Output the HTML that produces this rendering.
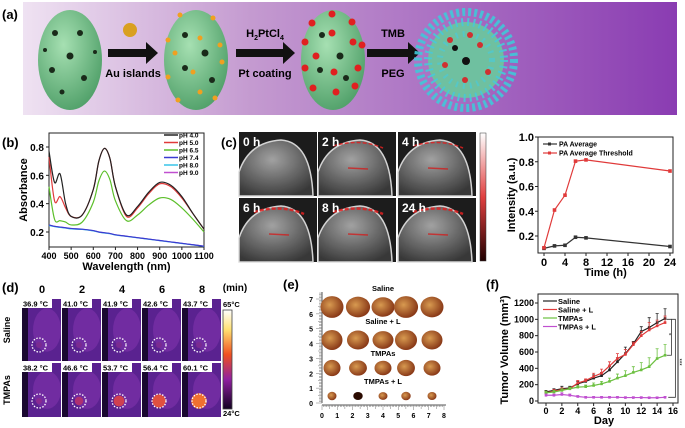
<!DOCTYPE html>
<html><head><meta charset="utf-8"><style>
html,body{margin:0;padding:0;background:#fff}
svg{display:block;font-family:"Liberation Sans",Arial,sans-serif}
.b{font-weight:bold}
</style></head><body>
<svg id="fig" width="685" height="428" viewBox="0 0 685 428" xmlns="http://www.w3.org/2000/svg">
<defs>
<linearGradient id="bg" x1="0" x2="1" y1="0" y2="0"><stop offset="0" stop-color="#efe2f2"/><stop offset="0.35" stop-color="#c49ad0"/><stop offset="1" stop-color="#8a3cb2"/></linearGradient>
<radialGradient id="sph" cx="0.4" cy="0.35" r="0.7"><stop offset="0" stop-color="#a6e0b2"/><stop offset="1" stop-color="#4f9f68"/></radialGradient>
<radialGradient id="us" cx="0.45" cy="0.35" r="0.7"><stop offset="0" stop-color="#a9a9a9"/><stop offset="1" stop-color="#3a3a3a"/></radialGradient>
<linearGradient id="thermal" x1="0" x2="0" y1="0" y2="1"><stop offset="0" stop-color="#ffffff"/><stop offset="0.2" stop-color="#ffe070"/><stop offset="0.45" stop-color="#f05020"/><stop offset="0.7" stop-color="#9020a0"/><stop offset="1" stop-color="#100020"/></linearGradient>
<linearGradient id="pacb" x1="0" x2="0" y1="0" y2="1"><stop offset="0" stop-color="#ffffff"/><stop offset="0.5" stop-color="#e04040"/><stop offset="1" stop-color="#200000"/></linearGradient>
<radialGradient id="tum" cx="0.4" cy="0.4" r="0.6"><stop offset="0" stop-color="#d89a50"/><stop offset="1" stop-color="#8a3a18"/></radialGradient>
</defs>

<g>
<text x="2" y="19" font-size="13" class="b">(a)</text>
<rect x="23" y="2" width="654" height="113" fill="url(#bg)"/>
<ellipse cx="70" cy="60" rx="32" ry="50" fill="url(#sph)"/>
<g fill="#1a2a1a"><circle cx="55" cy="33" r="3"/><circle cx="80" cy="33" r="3"/><circle cx="70" cy="56" r="3.5"/><circle cx="52" cy="70" r="3"/><circle cx="84" cy="78" r="3"/><circle cx="62" cy="92" r="2.5"/><circle cx="95" cy="52" r="2"/><circle cx="45" cy="50" r="2"/></g>
<circle cx="130" cy="30" r="7" fill="#d9a020"/>
<path d="M108 49h38v-7l12 11l-12 11v-7h-38z" fill="#111"/>
<text x="133" y="77" font-size="11" class="b" text-anchor="middle">Au islands</text>
<ellipse cx="196" cy="60" rx="32" ry="50" fill="url(#sph)"/>
<g fill="#1a2a1a"><circle cx="185" cy="35" r="3"/><circle cx="205" cy="53" r="3.5"/><circle cx="185" cy="68" r="3"/><circle cx="212" cy="80" r="3"/></g>
<g fill="#f0a020"><circle cx="180" cy="15" r="2.5"/><circle cx="213" cy="18" r="2.5"/><circle cx="168" cy="40" r="2.5"/><circle cx="200" cy="38" r="2.5"/><circle cx="220" cy="45" r="2.5"/><circle cx="175" cy="53" r="2.5"/><circle cx="222" cy="62" r="2.5"/><circle cx="193" cy="72" r="2.5"/><circle cx="168" cy="77" r="2.5"/><circle cx="200" cy="92" r="2.5"/><circle cx="178" cy="100" r="2.5"/><circle cx="215" cy="98" r="2.5"/></g>
<path d="M236 49h47v-7l12 11l-12 11v-7h-47z" fill="#111"/>
<text x="265" y="37" font-size="11" class="b" text-anchor="middle">H<tspan font-size="7" dy="3">2</tspan><tspan dy="-3">PtCl</tspan><tspan font-size="7" dy="3">4</tspan></text>
<text x="265" y="77" font-size="11" class="b" text-anchor="middle">Pt coating</text>
<ellipse cx="333" cy="60" rx="32" ry="50" fill="url(#sph)"/>
<g fill="#1a2a1a"><circle cx="322" cy="35" r="3"/><circle cx="340" cy="56" r="3.5"/><circle cx="320" cy="70" r="3"/><circle cx="346" cy="78" r="3"/></g>
<g fill="#e02020"><circle cx="332" cy="14" r="3.5"/><circle cx="352" cy="22" r="3.5"/><circle cx="312" cy="23" r="3.5"/><circle cx="332" cy="33" r="3.5"/><circle cx="353" cy="42" r="3.5"/><circle cx="305" cy="42" r="3.5"/><circle cx="316" cy="56" r="3.5"/><circle cx="362" cy="45" r="3.5"/><circle cx="305" cy="68" r="3.5"/><circle cx="334" cy="72" r="3.5"/><circle cx="358" cy="68" r="3.5"/><circle cx="313" cy="88" r="3.5"/><circle cx="336" cy="92" r="3.5"/><circle cx="355" cy="86" r="3.5"/></g>
<path d="M367 49h41v-7l12 11l-12 11v-7h-41z" fill="#111"/>
<text x="393" y="37" font-size="11" class="b" text-anchor="middle">TMB</text>
<text x="393" y="77" font-size="11" class="b" text-anchor="middle">PEG</text>
<g>
<circle cx="466" cy="60" r="38" fill="#6fc0a0"/>
<circle cx="466" cy="60" r="48" fill="none" stroke="#40c8d8" stroke-width="8" stroke-dasharray="3 3" opacity="0.9"/>
<circle cx="466" cy="60" r="38" fill="none" stroke="#48c8d8" stroke-width="8" stroke-dasharray="2 4" opacity="0.9"/>
<circle cx="466" cy="60" r="26" fill="none" stroke="#50c8d0" stroke-width="6" stroke-dasharray="2 5" opacity="0.8"/>
<g fill="#d03030"><circle cx="450" cy="40" r="3"/><circle cx="480" cy="45" r="3"/><circle cx="445" cy="65" r="3"/><circle cx="488" cy="72" r="3"/><circle cx="465" cy="80" r="3"/><circle cx="470" cy="35" r="3"/></g>
<circle cx="466" cy="61" r="4" fill="#111"/><circle cx="455" cy="48" r="3" fill="#111"/>
</g>
</g>

<g id="pb">
<text x="2" y="147" font-size="13" class="b">(b)</text>
</g>

<g id="pcimg">
<text x="221" y="147" font-size="13" class="b">(c)</text>
<rect x="480" y="133" width="6" height="128" fill="url(#pacb)" stroke="#333" stroke-width="0.5"/>
</g>
<g id="pc"></g>

<g id="pd">
<text x="2" y="292" font-size="13" class="b">(d)</text>
<text x="235" y="291" font-size="10" class="b" text-anchor="middle">(min)</text>
<text x="10" y="330" font-size="9" class="b" text-anchor="middle" transform="rotate(-90 10 330)">Saline</text>
<text x="10" y="390" font-size="9" class="b" text-anchor="middle" transform="rotate(-90 10 390)">TMPAs</text>
<rect x="223" y="310" width="9" height="99" fill="url(#thermal)" stroke="#444" stroke-width="0.8"/>
<text x="223" y="307" font-size="7.5" class="b">65°C</text>
<text x="223" y="416" font-size="7.5" class="b">24°C</text>
</g>

<g id="pe">
<text x="283" y="289" font-size="13" class="b">(e)</text>
</g>

<g id="pf">
<text x="486" y="289" font-size="13" class="b">(f)</text>
</g>
</svg>
<script>
const bWave = [400,425,450,475,500,550,600,625,650,675,700,750,800,850,900,950,1000,1050,1100];
const bPH40 = [0.77,0.55,0.61,0.40,0.31,0.32,0.50,0.70,0.79,0.72,0.52,0.32,0.38,0.48,0.55,0.53,0.45,0.33,0.22];
const bPH50 = [0.73,0.42,0.45,0.37,0.31,0.32,0.50,0.70,0.79,0.72,0.52,0.31,0.37,0.47,0.54,0.52,0.44,0.33,0.22];
const bPH65 = [0.52,0.29,0.28,0.27,0.25,0.27,0.41,0.56,0.63,0.57,0.42,0.28,0.32,0.39,0.44,0.43,0.37,0.29,0.20];
const bPH74 = [0.25,0.24,0.235,0.23,0.225,0.22,0.21,0.20,0.195,0.19,0.18,0.17,0.16,0.15,0.14,0.13,0.12,0.11,0.10];
const bPH80 = [0.245,0.238,0.232,0.228,0.222,0.218,0.208,0.199,0.193,0.188,0.179,0.169,0.159,0.149,0.139,0.129,0.119,0.109,0.099];
const bPH90 = [0.248,0.24,0.234,0.229,0.223,0.219,0.209,0.2,0.194,0.189,0.18,0.17,0.16,0.15,0.14,0.13,0.12,0.11,0.1];
const bLegend = ["pH 4.0","pH 5.0","pH 6.5","pH 7.4","pH 8.0","pH 9.0"];
const bXTicks = [400,500,600,700,800,900,1000,1100];
const bYTicks = [0.2,0.4,0.6,0.8];
const cTime = [0,2,4,6,8,24];
const cAvg = [0.10,0.12,0.125,0.19,0.185,0.115];
const cThr = [0.105,0.41,0.53,0.805,0.815,0.725];
const cXTicks = [0,4,8,12,16,20,24];
const cYTicks = [0.2,0.4,0.6,0.8,1.0];
const cImgLabels = ["0 h","2 h","4 h","6 h","8 h","24 h"];
const dTimes = ["0","2","4","6","8"];
const dSalineT = ["36.9 °C","41.0 °C","41.9 °C","42.6 °C","43.7 °C"];
const dTmpaT = ["38.2 °C","46.6 °C","53.7 °C","56.4 °C","60.1 °C"];
const fDay = [0,1,2,3,4,5,6,7,8,9,10,11,12,13,14,15];
const fSaline = [110,130,150,160,210,240,280,310,380,480,580,700,850,900,960,1010];
const fSalineErr = [20,20,30,20,30,20,40,40,40,50,80,30,60,120,110,120];
const fSalineL = [100,120,140,150,220,250,300,340,430,520,570,690,800,870,920,960];
const fSalineLErr = [20,20,20,20,30,20,40,50,50,60,60,30,50,90,70,80];
const fTmpa = [100,110,130,150,170,175,190,210,240,280,310,350,380,420,520,560];
const fTmpaErr = [20,20,20,20,20,20,30,30,40,50,60,70,90,110,120,130];
const fTmpaL = [70,70,80,70,55,45,45,45,45,45,42,42,42,40,40,45];
const fTmpaLErr = [15,15,20,15,10,10,10,10,10,10,8,8,8,8,8,10];
const fLegend = ["Saline","Saline + L","TMPAs","TMPAs + L"];
const fXTicks = [0,2,4,6,8,10,12,14,16];
const fYTicks = [0,200,400,600,800,1000,1200];

const NS = "http://www.w3.org/2000/svg";
function mk(parent, tag, attrs, text){
  const e = document.createElementNS(NS, tag);
  for (const k in attrs) e.setAttribute(k, attrs[k]);
  if (text !== undefined) e.textContent = text;
  parent.appendChild(e);
  return e;
}
function smooth(pts){
  let d = "M"+pts[0][0]+" "+pts[0][1];
  for (let i=0;i<pts.length-1;i++){
    const p0=pts[Math.max(0,i-1)],p1=pts[i],p2=pts[i+1],p3=pts[Math.min(pts.length-1,i+2)];
    const c1=[p1[0]+(p2[0]-p0[0])/6,p1[1]+(p2[1]-p0[1])/6];
    const c2=[p2[0]-(p3[0]-p1[0])/6,p2[1]-(p3[1]-p1[1])/6];
    d+=" C"+c1[0]+" "+c1[1]+" "+c2[0]+" "+c2[1]+" "+p2[0]+" "+p2[1];
  }
  return d;
}

(function(){
  const g = document.getElementById("pb");
  const L=49,R=204,T=133,B=247;
  const x = v => L + (v-400)/(1100-400)*(R-L);
  const y = v => 232 - (v-0.2)/0.6*(232-147);
  const frame = mk(g,"rect",{x:L,y:T,width:R-L,height:B-T,fill:"none",stroke:"#222","stroke-width":1});
  
  
  bXTicks.forEach(v=>{
    mk(g,"line",{x1:x(v),x2:x(v),y1:B,y2:B+3,stroke:"#222"});
    const t = mk(g,"text",{x:x(v),y:B+12,"font-size":9,"font-weight":"bold","text-anchor":"middle"},String(v));
    
    
  });
  bYTicks.forEach(v=>{
    mk(g,"line",{x1:L-3,x2:L,y1:y(v),y2:y(v),stroke:"#222"});
    const t = mk(g,"text",{x:L-5,y:y(v)+4,"font-size":10,"font-weight":"bold","text-anchor":"end"},v.toFixed(1));
    
    
  });
  const xt = mk(g,"text",{x:(L+R)/2,y:270,"font-size":11,"font-weight":"bold","text-anchor":"middle"},"Wavelength (nm)");
  
  
  const yt = mk(g,"text",{x:27,y:190,"font-size":11,"font-weight":"bold","text-anchor":"middle",transform:"rotate(-90 27 190)"},"Absorbance");
  
  
  const series=[bPH40,bPH50,bPH65,bPH74,bPH80,bPH90];
  const cols=["#222","#e03a3a","#5cbf2a","#3a3ad0","#38c4e8","#c050d0"];
  [5,4,3,2,1,0].forEach(i=>{
    const pts = bWave.map((w,j)=>[x(w),y(series[i][j])]);
    const p = mk(g,"path",{d:smooth(pts),fill:"none",stroke:cols[i],"stroke-width":1.2});
    
    
  });
  bLegend.forEach((s,i)=>{
    const ly = 135+i*7.5;
    mk(g,"line",{x1:164,x2:178,y1:ly,y2:ly,stroke:cols[i],"stroke-width":1.5});
    const t = mk(g,"text",{x:179,y:ly+2.5,"font-size":6.5,"font-weight":"bold"},s);
    
    
  });
})();

(function(){
  const g = document.getElementById("pcimg");
  const xs=[239,318,398], ys=[132,198], w=78, h=64;
  cImgLabels.forEach((lab,i)=>{
    const X=xs[i%3], Y=ys[Math.floor(i/3)];
    const r = mk(g,"rect",{x:X,y:Y,width:w,height:h,fill:"#1c1c1c"});
    
    
    mk(g,"path",{d:`M${X} ${Y+h} L${X} ${Y+40} Q${X+10} ${Y+10} ${X+42} ${Y+8} Q${X+72} ${Y+10} ${X+74} ${Y+h} Z`,fill:"url(#us)",stroke:"#ddd","stroke-width":1.5,opacity:0.95});
    if(i>0){
      mk(g,"path",{d:`M${X+15} ${Y+14} Q${X+42} ${Y+6} ${X+65} ${Y+16}`,fill:"none",stroke:"#e02020","stroke-width":i>=3?2.5:1.5,"stroke-dasharray":"4 2",opacity:0.85});
      mk(g,"line",{x1:X+30,x2:X+50,y1:Y+36,y2:Y+37,stroke:"#d02020","stroke-width":1.5,opacity:0.8});
    }
    const t = mk(g,"text",{x:X+4,y:Y+14,"font-size":12,"font-weight":"bold",fill:"#fff"},lab);
    
    
  });
})();

(function(){
  const g = document.getElementById("pc");
  const L=538,R=673,T=137,B=253;
  const x = v => 544 + v/24*(670-544);
  const y = v => 236 - (v-0.2)/0.8*(236-137);
  const f = mk(g,"rect",{x:L,y:T,width:R-L,height:B-T,fill:"none",stroke:"#222"});
  
  
  cXTicks.forEach(v=>{
    mk(g,"line",{x1:x(v),x2:x(v),y1:B,y2:B+3,stroke:"#222"});
    const t = mk(g,"text",{x:x(v),y:B+13,"font-size":11,"font-weight":"bold","text-anchor":"middle"},String(v));
    
    
  });
  cYTicks.forEach(v=>{
    mk(g,"line",{x1:L-3,x2:L,y1:y(v),y2:y(v),stroke:"#222"});
    const t = mk(g,"text",{x:L-4,y:y(v)+4,"font-size":11,"font-weight":"bold","text-anchor":"end"},v.toFixed(1));
    
    
  });
  const xt = mk(g,"text",{x:(L+R)/2,y:276,"font-size":11,"font-weight":"bold","text-anchor":"middle"},"Time (h)");
  
  
  const yt = mk(g,"text",{x:515,y:195,"font-size":11,"font-weight":"bold","text-anchor":"middle",transform:"rotate(-90 515 195)"},"Intensity (a.u.)");
  
  
  [[cAvg,"#333","pa-average-line"],[cThr,"#e03a3a","pa-threshold-line"]].forEach(([d,c,n])=>{
    const p = mk(g,"polyline",{points:cTime.map((t,i)=>x(t)+","+y(d[i])).join(" "),fill:"none",stroke:c,"stroke-width":1.2});
    
    
    cTime.forEach((t,i)=>{
      const m = mk(g,"rect",{x:x(t)-1.8,y:y(d[i])-1.8,width:3.6,height:3.6,fill:c});
      
      
    });
  });
  [["PA Average","#333",144],["PA Average Threshold","#e03a3a",153]].forEach(([s,c,ly])=>{
    mk(g,"line",{x1:543,x2:557,y1:ly,y2:ly,stroke:c,"stroke-width":1.2});
    mk(g,"rect",{x:548,y:ly-1.5,width:3,height:3,fill:c});
    const t = mk(g,"text",{x:559,y:ly+2.5,"font-size":7,"font-weight":"bold"},s);
    
    
  });
})();

(function(){
  const g = document.getElementById("pd");
  const xs=[21,61,101,141,181], ys=[299,363], w=40, h=62, hb=54;
  dTimes.forEach((tm,i)=>{
    const t = mk(g,"text",{x:xs[i]+21,y:293,"font-size":11,"font-weight":"bold","text-anchor":"middle"},tm);
    
    
  });
  [dSalineT,dTmpaT].forEach((temps,r)=>{
    temps.forEach((tt,i)=>{
      const X=xs[i]+1, Y=ys[r], H=r?hb:h;
      const im = mk(g,"rect",{x:X,y:Y,width:w-1,height:H,fill:"#5a2290"});
      
      
      mk(g,"rect",{x:X,y:Y,width:6,height:H,fill:"#1a0830"});
      mk(g,"ellipse",{cx:X+25,cy:Y+H*0.5,rx:14,ry:H*0.35,fill:"#7a30a8",opacity:0.7});
      const hot = r ? ["#8a2a90","#b03070","#d04050","#e05040","#f07030"][i] : "#7a2a90";
      mk(g,"circle",{cx:X+17,cy:Y+H-16,r:r?3+i*1.2:3,fill:hot});
      mk(g,"circle",{cx:X+17,cy:Y+H-16,r:7,fill:"none",stroke:"#fff","stroke-width":1.3,"stroke-dasharray":"1.5 1.5"});
      mk(g,"rect",{x:X,y:Y,width:30,height:9,fill:"#fff"});
      const t = mk(g,"text",{x:X+1,y:Y+7.5,"font-size":7.5,"font-weight":"bold"},tt);
      
      
    });
  });
})();

(function(){
  const g = document.getElementById("pe");
  const rulerX=322, y0=403, unit=(403-299)/7;
  mk(g,"line",{x1:rulerX,x2:rulerX,y1:292,y2:y0,stroke:"#555"});
  mk(g,"line",{x1:rulerX,x2:446,y1:y0+2,y2:y0+2,stroke:"#555"});
  for(let i=0;i<=75;i++){
    const yy=y0-i*unit/10;
    if(yy<292)break;
    mk(g,"line",{x1:rulerX-(i%10==0?6:i%5==0?4:3),x2:rulerX,y1:yy,y2:yy,stroke:"#777","stroke-width":0.5});
  }
  for(let i=0;i<=80;i++){
    const xx=rulerX+i*(122/80);
    mk(g,"line",{x1:xx,x2:xx,y1:y0+2,y2:y0+(i%10==0?7:i%5==0?6:4),stroke:"#777","stroke-width":0.5});
  }
  for(let i=0;i<=7;i++){
    const t = mk(g,"text",{x:313,y:y0-i*unit+3,"font-size":7,"font-weight":"bold","text-anchor":"end"},String(i));
    
    
  }
  for(let i=0;i<=8;i++){
    const t = mk(g,"text",{x:rulerX+i*(122/8),y:418,"font-size":7,"font-weight":"bold","text-anchor":"middle"},String(i));
    
    
  }
  const rows=[["Saline",291,307,11.5],["Saline + L",324,340,10.5],["TMPAs",356,368,8.5],["TMPAs + L",384,396,4.5]];
  const cx=[332,358,383,406,432];
  rows.forEach(([lab,ly,cy,rr])=>{
    const t = mk(g,"text",{x:383,y:ly,"font-size":7.5,"font-weight":"bold","text-anchor":"middle"},lab);
    
    
    cx.forEach((x,i)=>{
      const c = mk(g,"ellipse",{cx:x,cy:cy,rx:rr*(1+0.05*(i%2)),ry:rr*(0.95-0.05*(i%3)),fill:(rr<5&&i==1)?"#2a0a00":"url(#tum)"});
      
      
    });
  });
})();

(function(){
  const g = document.getElementById("pf");
  const L=538,R=678,T=294,B=403;
  const x = v => 546 + v/16*(673-546);
  const y = v => 401 - v/1200*(401-303);
  const f = mk(g,"rect",{x:L,y:T,width:R-L,height:B-T,fill:"none",stroke:"#222"});
  
  
  fXTicks.forEach(v=>{
    mk(g,"line",{x1:x(v),x2:x(v),y1:B,y2:B+3,stroke:"#222"});
    const t = mk(g,"text",{x:x(v),y:B+11,"font-size":9,"font-weight":"bold","text-anchor":"middle"},String(v));
    
    
  });
  fYTicks.forEach(v=>{
    mk(g,"line",{x1:L-3,x2:L,y1:y(v),y2:y(v),stroke:"#222"});
    const t = mk(g,"text",{x:L-4,y:y(v)+3,"font-size":9,"font-weight":"bold","text-anchor":"end"},String(v));
    
    
  });
  const xt = mk(g,"text",{x:(L+R)/2-4,y:424,"font-size":11,"font-weight":"bold","text-anchor":"middle"},"Day");
  
  
  const yt = mk(g,"text",{x:508,y:350,"font-size":11,"font-weight":"bold","text-anchor":"middle",transform:"rotate(-90 508 350)"},"Tumor Volume (mm³)");
  
  
  const ser=[[fSaline,fSalineErr,"#222"],[fSalineL,fSalineLErr,"#e03a3a"],[fTmpa,fTmpaErr,"#6cc040"],[fTmpaL,fTmpaLErr,"#c050d0"]];
  ser.forEach(([d,e,c],k)=>{
    fDay.forEach((dd,i)=>{
      const eb = mk(g,"path",{d:`M${x(dd)} ${y(d[i])}V${y(d[i]+e[i])}M${x(dd)-1.5} ${y(d[i]+e[i])}h3`,stroke:c,"stroke-width":0.8,fill:"none"});
      
      
    });
    const p = mk(g,"polyline",{points:fDay.map((dd,i)=>x(dd)+","+y(d[i])).join(" "),fill:"none",stroke:c,"stroke-width":1.2});
    
    
    fDay.forEach((dd,i)=>{
      const m = mk(g,"rect",{x:x(dd)-1.3,y:y(d[i])-1.3,width:2.6,height:2.6,fill:c});
      
      
    });
    const ly=301+k*8.5;
    mk(g,"line",{x1:543,x2:557,y1:ly,y2:ly,stroke:c,"stroke-width":1.2});
    const t = mk(g,"text",{x:558,y:ly+3,"font-size":7.5,"font-weight":"bold"},fLegend[k]);
    
    
  });
  const br1 = mk(g,"path",{d:`M${x(15.2)} ${y(1000)}H${x(15.8)}V${y(560)}H${x(15.2)}`,stroke:"#333",fill:"none","stroke-width":0.8});
  
  
  mk(g,"text",{x:x(15.5)+1,y:y(780),"font-size":6,"text-anchor":"middle"},"*");
  const br2 = mk(g,"path",{d:`M${x(15.8)} ${y(1000)}H${x(16.3)}V${y(45)}H${x(15.4)}`,stroke:"#333",fill:"none","stroke-width":0.8});
  
  
  mk(g,"text",{x:x(16.3)+2,y:y(520),"font-size":6,transform:`rotate(90 ${x(16.3)+2} ${y(520)})`},"***");
})();
</script>
</body></html>
